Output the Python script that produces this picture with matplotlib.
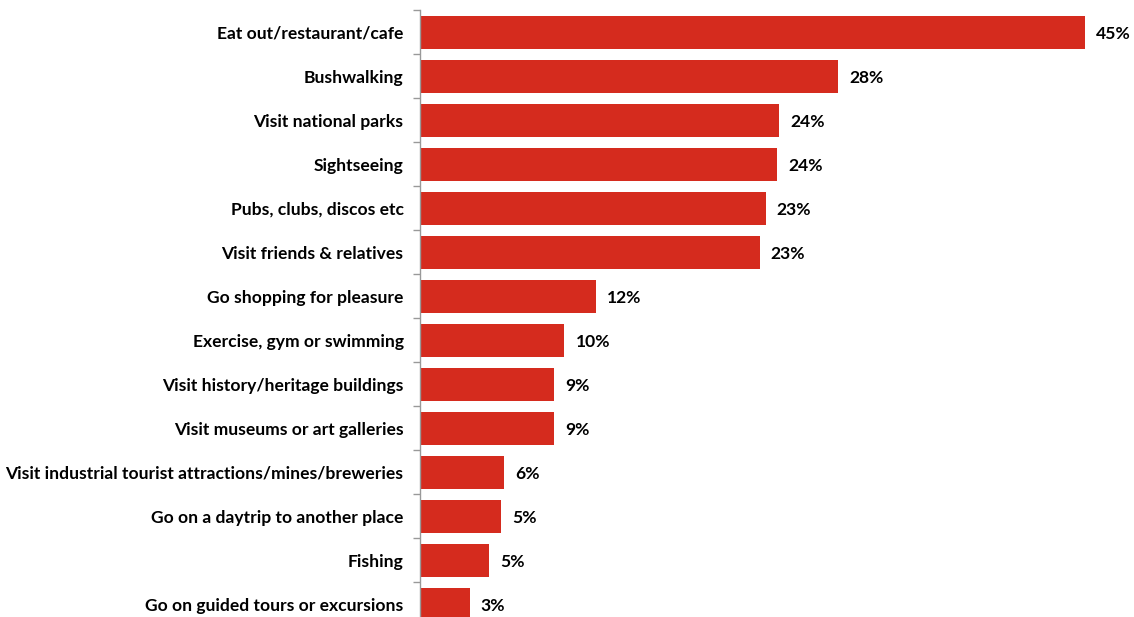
import matplotlib
matplotlib.use("Agg")
import matplotlib.pyplot as plt
import numpy as np

categories = [
    "Eat out/restaurant/cafe",
    "Bushwalking",
    "Visit national parks",
    "Sightseeing",
    "Pubs, clubs, discos etc",
    "Visit friends & relatives",
    "Go shopping for pleasure",
    "Exercise, gym or swimming",
    "Visit history/heritage buildings",
    "Visit museums or art galleries",
    "Visit industrial tourist attractions/mines/breweries",
    "Go on a daytrip to another place",
    "Fishing",
    "Go on guided tours or excursions",
]
values = [45.0, 28.3, 24.3, 24.2, 23.4, 23.0, 11.9, 9.8, 9.1, 9.1, 5.7, 5.5, 4.7, 3.4]
value_labels = ["45%", "28%", "24%", "24%", "23%", "23%", "12%", "10%", "9%", "9%", "6%", "5%", "5%", "3%"]

plt.rcParams['font.family'] = ['Lato', 'DejaVu Sans']

W, H = 1134, 617
fig = plt.figure(figsize=(W / 100, H / 100), dpi=100)
left_px = 419.5
px_per_unit = 14.79
xmax = 48
top_px = 10
slot = 44
n = len(categories)
bottom_px = top_px + slot * n
ax = fig.add_axes([left_px / W, 1 - bottom_px / H, xmax * px_per_unit / W, (bottom_px - top_px) / H])

y = np.arange(n)
ax.barh(y, values, height=0.75, color="#D52B1E", zorder=2)
ax.set_ylim(n - 0.5, -0.5)
ax.set_xlim(0, xmax)

for yi, v, lab in zip(y, values, value_labels):
    ax.text(v + 11 / px_per_unit, yi + 0.04, lab, va="center", ha="left",
            fontsize=12.6, fontweight="bold", color="black")

ax.set_yticks(y)
ax.set_yticklabels(categories, fontsize=12.6, fontweight="bold")
ax.tick_params(axis="y", which="major", length=0, pad=11.5)
ax.set_yticks(np.arange(n + 1) - 0.5, minor=True)
ax.tick_params(axis="y", which="minor", length=5, color="#999999", width=1)
ax.set_xticks([])
for s in ["top", "right", "bottom"]:
    ax.spines[s].set_visible(False)
ax.spines["left"].set_color("#999999")
ax.spines["left"].set_linewidth(1)

fig.savefig("out.png", dpi=100)
